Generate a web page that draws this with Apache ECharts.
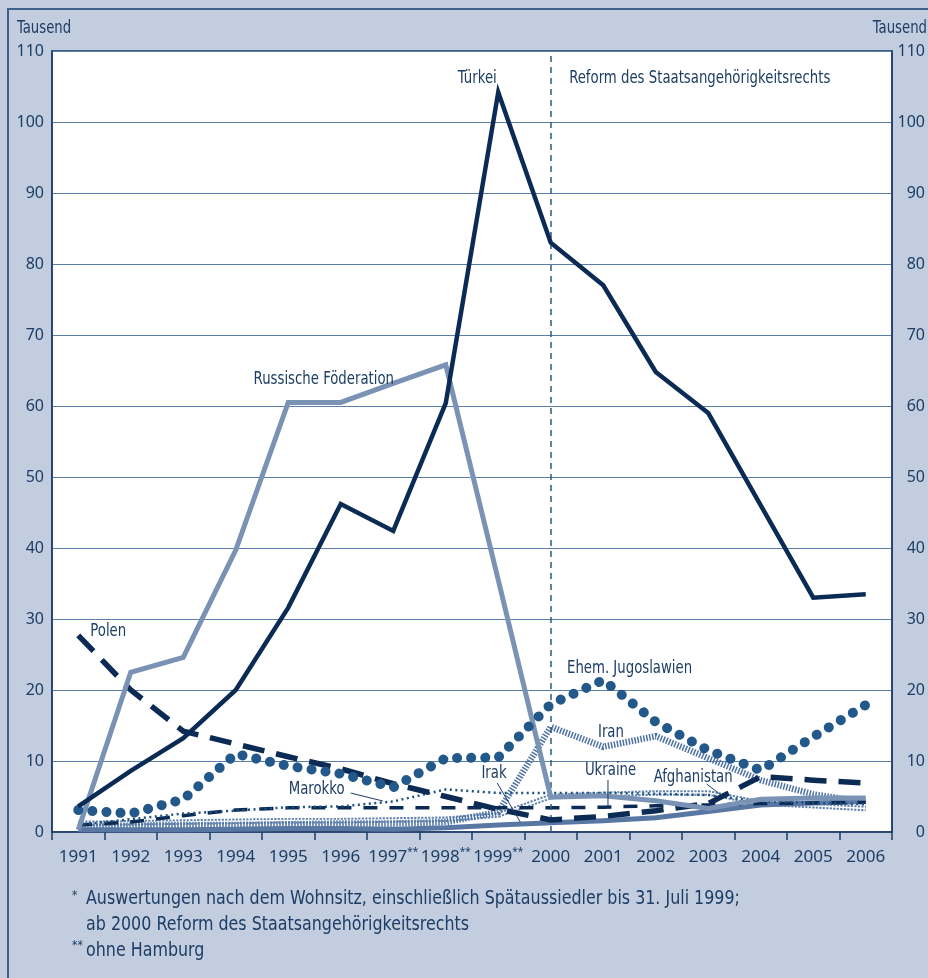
<!DOCTYPE html>
<html><head><meta charset="utf-8">
<script src="https://cdn.jsdelivr.net/npm/echarts/dist/echarts.min.js"></script>
<style>html,body{margin:0;padding:0;background:#c2cddf;} #c{width:928px;height:978px;}</style>
</head><body><div id="c"></div>
<script>
// ---- data ----
const categories = ['1991','1992','1993','1994','1995','1996','1997**','1998**','1999**','2000','2001','2002','2003','2004','2005','2006'];
const yTicks = [0,10,20,30,40,50,60,70,80,90,100,110];
const tuerkei     = [3.6, 8.6, 13.2, 20.0, 31.6, 46.2, 42.4, 60.4, 104.2, 83.0, 77.0, 64.8, 59.0, 46.0, 33.0, 33.5];
const russland    = [0.3, 22.5, 24.6, 39.7, 60.5, 60.5, 63.2, 65.8, 35.5, 4.9, 5.1, 4.4, 3.3, 4.6, 4.8, 4.8];
const polen       = [27.7, 20.0, 14.2, 12.4, 10.6, 8.9, 6.8, 5.0, 3.2, 1.7, 2.2, 3.0, 4.0, 7.8, 7.3, 6.9];
const jugoslawien = [3.1, 2.6, 4.6, 11.0, 9.3, 8.2, 6.3, 10.4, 10.5, 18.0, 21.4, 15.5, 11.5, 8.7, 13.4, 17.9];
const iran        = [0.8, 0.9, 1.0, 1.0, 1.1, 1.2, 1.2, 1.4, 2.8, 14.8, 12.0, 13.5, 10.4, 7.3, 5.3, 4.2];
const irak        = [0.3, 0.3, 0.3, 0.4, 0.5, 0.5, 0.4, 0.6, 1.0, 1.3, 1.6, 2.0, 2.9, 3.8, 4.1, 4.3];
const ukraine     = [1.0, 1.4, 2.3, 3.1, 3.4, 3.4, 3.4, 3.4, 3.4, 3.4, 3.5, 3.7, 3.8, 4.0, 4.1, 4.2];
const marokko     = [1.0, 1.8, 2.6, 3.0, 3.5, 3.6, 4.3, 6.0, 5.5, 5.5, 5.5, 5.4, 5.2, 4.3, 4.1, 3.9];
const afghanistan = [1.2, 1.3, 1.4, 1.5, 1.6, 1.6, 1.7, 1.8, 2.4, 5.0, 5.3, 5.5, 5.5, 4.1, 3.7, 3.3];

// ---- styling ----
const TXT = '#1d3d64';
const NAVY = '#0b2b55';
const COND = '"DejaVu Sans Condensed","DejaVu Sans",sans-serif';
const NOTO = '"Noto Sans",sans-serif';

const chart = echarts.init(document.getElementById('c'), null, {renderer:'canvas'});

function line(name, data, ls, z) {
  return {name, type:'line', data, symbol:'none', silent:true, z: z||2,
    lineStyle: Object.assign({join:'miter'}, ls), emphasis:{disabled:true}};
}

const option = {
  animation:false,
  backgroundColor:'#c2cddf',
  grid:{left:52, right:34, top:51, bottom:146, show:true, backgroundColor:'#ffffff', borderColor:TXT, borderWidth:1.5},
  xAxis:{type:'category', data:categories, boundaryGap:true,
    axisLine:{lineStyle:{color:TXT, width:1.5}},
    axisTick:{show:true, length:8, lineStyle:{color:TXT, width:1.5}},
    axisLabel:{margin:15, interval:0,
      formatter: v => v.indexOf('**')>=0 ? '{n|'+v.replace('**','')+'}{s|**}' : '{n|'+v+'}',
      rich:{n:{fontFamily:NOTO, fontSize:17, color:TXT, lineHeight:20},
            s:{fontFamily:NOTO, fontSize:10, color:TXT, verticalAlign:'top', lineHeight:20, padding:[0,0,6,0]}}},
    splitLine:{show:false}},
  yAxis:[
    {type:'value', min:0, max:110, interval:10, position:'left',
      axisLine:{show:true, lineStyle:{color:TXT, width:1.5}}, axisTick:{show:false},
      axisLabel:{margin:8, color:TXT, fontFamily:NOTO, fontSize:16, formatter: v => yTicks.indexOf(v)>=0 ? String(v) : ''},
      splitLine:{show:true, lineStyle:{color:'#5b7fa8', width:1}}},
    {type:'value', min:0, max:110, interval:10, position:'right',
      axisLine:{show:true, lineStyle:{color:TXT, width:1.5}}, axisTick:{show:false},
      axisLabel:{margin:33, align:'right', color:TXT, fontFamily:NOTO, fontSize:16, formatter: v => yTicks.indexOf(v)>=0 ? String(v) : ''},
      splitLine:{show:false}}
  ],
  series:[
    line('Afghanistan', afghanistan, {color:'#5f82ae', width:5.5, type:[2.2,1.3]}, 2),
    line('Afghanistan_inner', afghanistan, {color:'#ffffff', width:1.6}, 2),
    line('Iran', iran, {color:'#4d72a2', width:6.5, type:[1.5,1.5]}, 3),
    line('Irak', irak, {color:'#5877a3', width:5}, 3),
    line('Ukraine', ukraine, {color:NAVY, width:3.5, type:[14,12]}, 4),
    line('Marokko', marokko, {color:'#1f4f80', width:2.5, type:[2,3.5]}, 4),
    line('Polen', polen, {color:NAVY, width:5.5, type:[22,12]}, 5),
    line('Ehem. Jugoslawien', jugoslawien, {color:'#22588a', width:10, type:[0.1,14], cap:'round'}, 6),
    line('Russische Föderation', russland, {color:'#7a93b5', width:5}, 5),
    Object.assign(line('Türkei', tuerkei, {color:NAVY, width:4.5}, 7), {
      markLine:{silent:true, symbol:'none', label:{show:false},
        lineStyle:{type:[6,5], color:'#2a5c8a', width:1.5}, data:[{xAxis:'2000'}]}})
  ]
};
chart.setOption(option);

// annotation anchors in data space: [category index (fractional), value]
const labels = [
  {t:'Türkei', p:[7.60,106.2], a:'center'},
  {t:'Reform des Staatsangehörigkeitsrechts', p:[9.35,106.2], a:'left'},
  {t:'Russische Föderation', p:[3.34,63.8], a:'left'},
  {t:'Polen', p:[0.23,28.3], a:'left'},
  {t:'Ehem. Jugoslawien', p:[9.31,23.1], a:'left'},
  {t:'Iran', p:[9.90,14.1], a:'left'},
  {t:'Irak', p:[7.68,8.2], a:'left'},
  {t:'Ukraine', p:[9.65,8.7], a:'left'},
  {t:'Marokko', p:[4.01,6.06], a:'left'},
  {t:'Afghanistan', p:[10.96,7.75], a:'left'}
];
const leaders = [
  [[5.19,5.49],[5.80,4.37]],
  [[7.98,6.9],[8.42,1.41]],
  [[10.09,7.32],[10.09,3.52]],
  [[11.97,6.76],[12.29,4.93]]
];
function toPx(xi, v){
  const a = chart.convertToPixel({xAxisIndex:0, yAxisIndex:0}, [0, v]);
  const b = chart.convertToPixel({xAxisIndex:0, yAxisIndex:0}, [1, v]);
  return [a[0] + (b[0]-a[0])*xi, a[1]];
}
const SX = 0.82;
function txt(t, x, y, size, align, sx) {
  return {type:'text', silent:true, z:100, x:x, y:y, scaleX:sx,
    style:{text:t, fill:TXT, font:size+'px '+COND, textAlign:align, textVerticalAlign:'middle'}};
}
const g = [];
g.push({type:'rect', silent:true, z:-1, shape:{x:8, y:9, width:960, height:1000},
  style:{fill:null, stroke:'#3d5f89', lineWidth:2}});
labels.forEach(l => {
  const p = toPx(l.p[0], l.p[1]);
  g.push(txt(l.t, p[0], p[1], 18, l.a, SX));
});
leaders.forEach(ld => {
  const a = toPx(ld[0][0], ld[0][1]), b = toPx(ld[1][0], ld[1][1]);
  g.push({type:'line', silent:true, z:100, shape:{x1:a[0], y1:a[1], x2:b[0], y2:b[1]},
    style:{stroke:'#1d3d64', lineWidth:1}});
});
g.push(txt('Tausend', 17, 28, 18, 'left', SX));
g.push(txt('Tausend', 927, 28, 18, 'right', SX));
const notes = [
  {t:'*', x:72, y:896, s:12},
  {t:'Auswertungen nach dem Wohnsitz, einschließlich Spätaussiedler bis 31. Juli 1999;', x:86, y:899, s:19},
  {t:'ab 2000 Reform des Staatsangehörigkeitsrechts', x:86, y:925, s:19},
  {t:'**', x:72, y:946, s:12},
  {t:'ohne Hamburg', x:86, y:951, s:19}
];
notes.forEach(n => g.push(txt(n.t, n.x, n.y, n.s, 'left', n.s > 14 ? 0.93 : 1)));
chart.setOption({graphic:g});
</script></body></html>
